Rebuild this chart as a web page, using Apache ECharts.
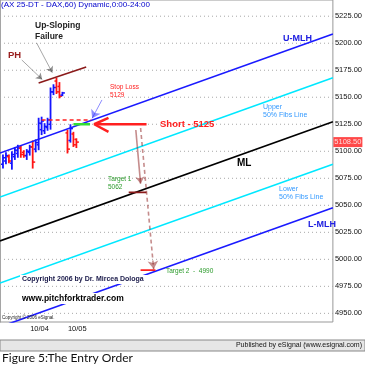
<!DOCTYPE html>
<html><head><meta charset="utf-8">
<script src="https://cdn.jsdelivr.net/npm/echarts@6/dist/echarts.min.js"></script>
<style>html,body{margin:0;padding:0;background:#fff}#c{width:365px;height:370px}</style>
</head><body><div id="c"></div>
<script>
// ---- data ----
var barX     = [1,2,3,4,5,6,7,8,9,10,11,12,13,14,15,16,17,18,19,20,21,22.7,23.7,24.7,25.7];
var barOpen  = [5088,5091,5095,5089,5095,5098,5103,5099,5096,5099,5104,5102,5106,5120,5119,5122,5125,5155,5165,5160,5152,5117,5110,5116,5111];
var barClose = [5094,5096,5091,5097,5101,5103,5097,5096,5100,5104,5090,5108,5126,5128,5123,5129,5155,5159,5155,5151,5154,5102,5121,5106,5108.5];
var barLow   = [5084,5088,5089,5083,5092,5094,5094,5094,5092,5096,5084,5099,5101,5115,5116,5119,5120,5152,5153,5149,5151,5098,5108,5104,5103];
var barHigh  = [5097,5099,5097,5100,5104,5106,5105,5101,5102,5106,5110,5111,5131,5132,5126,5131,5159,5162,5168,5164,5155,5120,5125,5118,5112];

var forkNames  = ['U-MLH','Upper 50%','ML','Lower 50%','L-MLH'];
var forkStartX = 0, forkEndX = 112;
var forkStartY = [5098.4, 5057.7, 5017.0, 4978.1, 4937.5];
var forkEndY   = [5208.5, 5168.1, 5127.4, 5088.0, 5047.8];
var forkColors = ['#1a1aff', '#00e8ff', '#000000', '#00e8ff', '#1a1aff'];

var yTicks = [4950,4975,5000,5025,5050,5075,5100,5125,5150,5175,5200,5225];
var dayTicks = [13.3, 26];
var dayLabels = ['10/04', '10/05'];

var lastPrice = 5108.5;
var stopLoss = 5129, entry = 5125, target1 = 5062, target2 = 4990;
var phLine = [[13, 5163.2], [29, 5178.0]];

var F = 'Liberation Sans, Arial, sans-serif';
var chart = echarts.init(document.getElementById('c'), null, {renderer:'canvas'});

var series = [];
// dotted horizontal grid lines at the tick values
yTicks.forEach(function(v){
  series.push({type:'line', data:[[0,v],[112,v]], symbol:'none', silent:true, z:1,
    lineStyle:{color:'#a8a8a8', type:[1,3], width:1}});
});
series.push({
  type:'custom', name:'DAX', z:3,
  data: barX.map(function(x,i){return [x,barOpen[i],barClose[i],barLow[i],barHigh[i]];}),
  encode:{x:0,y:[1,2,3,4]},
  renderItem:function(params, api){
    var x=api.value(0),o=api.value(1),c=api.value(2),l=api.value(3),h=api.value(4);
    var pH=api.coord([x,h]),pL=api.coord([x,l]),pO=api.coord([x,o]),pC=api.coord([x,c]);
    var col = c>=o ? '#1414ff' : '#ff1414';
    return {type:'group',children:[
      {type:'line',shape:{x1:pH[0],y1:pH[1],x2:pL[0],y2:pL[1]},style:{stroke:col,lineWidth:1.8}},
      {type:'line',shape:{x1:pO[0]-2,y1:pO[1],x2:pO[0],y2:pO[1]},style:{stroke:col,lineWidth:1.5}},
      {type:'line',shape:{x1:pC[0],y1:pC[1],x2:pC[0]+2.5,y2:pC[1]},style:{stroke:col,lineWidth:1.5}}
    ]};
  }
});
forkNames.forEach(function(n,i){
  series.push({type:'line', name:n, data:[[forkStartX,forkStartY[i]],[forkEndX,forkEndY[i]]],
    symbol:'none', silent:true, z:4, clip:true,
    lineStyle:{color:forkColors[i], width:1.6}});
});
function seg(data, color, width, type, z){
  series.push({type:'line', data:data, symbol:'none', silent:true, z:z||5,
    lineStyle:{color:color, width:width, type:type||'solid'}});
}
seg(phLine, '#8b1a1a', 1.6);
seg([[14, stopLoss],[30.7, stopLoss]], '#ff2020', 1.5, [4,3]);
seg([[24.7, entry],[30.3, entry]], '#33dd33', 2.5);
seg([[32, entry],[49.3, entry]], '#ff2020', 2.5);
seg([[36.5, entry+6],[31.7, entry],[36.5, entry-7]], '#ff2020', 2.5);
seg([[43.3, target1],[49.3, target1]], '#8b1a1a', 1.6);
seg([[47.3, target2],[52.3, target2]], '#ff2020', 1.6);
series.push({type:'lines', coordinateSystem:'cartesian2d', z:6, silent:true,
  symbol:['none','arrow'], symbolSize:7,
  data:[
    {coords:[[45.7,5119.7],[47.3,target1+8]], lineStyle:{color:'#8b1a1a', width:1.6, type:'solid'}},
    {coords:[[47.3,5121.5],[51.7,target2+1]], lineStyle:{color:'#8b1a1a', width:1.6, type:[4,3]}, symbolSize:8},
    {coords:[[34.3,5147.5],[31,stopLoss+1.5]], lineStyle:{color:'#1a1aff', width:1}, symbolSize:8},
    {coords:[[7.33,5184.5],[14.2,5166.5]], lineStyle:{color:'#222', width:0.8}, symbolSize:6},
    {coords:[[12.33,5200.2],[17.6,5172.8]], lineStyle:{color:'#222', width:0.8}, symbolSize:6}
  ]});
// last price tag
series.push({type:'scatter', data:[[112, lastPrice]], symbol:'rect', symbolSize:[29,10], symbolOffset:[15,0],
  itemStyle:{color:'#ff1a1a'}, z:10, silent:true, clip:false,
  label:{show:true, position:'inside', formatter:function(){return lastPrice.toFixed(2);}, color:'#fff', fontSize:7.5, fontFamily:F}});

function txt(t,x,y,size,color,weight,extra){
  var s = {text:t, x:x, y:y, font:(weight||'normal')+' '+size+'px '+F, fill:color, textVerticalAlign:'top'};
  if(extra){for(var k in extra) s[k]=extra[k];}
  return {type:'text', z:100, style:s};
}
var graphics = [
  txt('(AX 25-DT - DAX,60) Dynamic,0:00-24:00', 1, 1, 8, '#0000cc'),
  txt('Up-Sloping', 35, 21, 8.5, '#222', 'bold'),
  txt('Failure', 35, 32, 8.5, '#222', 'bold'),
  txt('PH', 8, 50, 9.5, '#9a2020', 'bold'),
  txt('Stop Loss', 110, 84, 6.5, '#ff2020'),
  txt('5129', 110, 92, 6.5, '#ff2020'),
  txt('Short - 5125', 160, 119, 9.5, '#ff2020', 'bold'),
  txt('U-MLH', 283, 34, 9, '#2020e0', 'bold'),
  txt('Upper', 263, 104, 7, '#3399ff'),
  txt('50% Fibs Line', 263, 112, 7, '#3399ff'),
  txt('ML', 237, 158, 10, '#000', 'bold'),
  txt('Lower', 279, 186, 7, '#3399ff'),
  txt('50% Fibs Line', 279, 194, 7, '#3399ff'),
  txt('L-MLH', 308, 220, 9, '#2020e0', 'bold'),
  txt('Target 1', 108, 176, 6.5, '#2a9a2a'),
  txt('5062', 108, 184, 6.5, '#2a9a2a'),
  txt('Target 2  -  4990', 166, 268, 6.5, '#2a9a2a'),
  txt('Copyright 2006 by Dr. Mircea Dologa', 20, 275, 7, '#1a1a4a', 'bold', {backgroundColor:'#fff', padding:[1,8,1,2]}),
  txt('www.pitchforktrader.com', 20, 293, 8.5, '#000', 'bold', {backgroundColor:'#fff', padding:[1,28,1,2]}),
  txt('Copyright \u00a9 2006 eSignal.', 2, 315, 4.5, '#222'),
  {type:'rect', z:90, shape:{x:0,y:340,width:365,height:11}, style:{fill:'#e6e6e6', stroke:'#888', lineWidth:1}},
  txt('Published by eSignal (www.esignal.com)', 362, 342, 7, '#111', 'normal', {textAlign:'right'}),
  txt('Figure 5:The Entry Order', 2, 352, 12, '#111', 'normal', {font:'normal 12px Lato, sans-serif'})
];

chart.setOption({
  animation:false,
  backgroundColor:'#fff',
  grid:{left:0, right:29, top:0, bottom:48, show:true, borderColor:'#999', borderWidth:1, containLabel:false},
  xAxis:{type:'value', min:0, max:112,
    axisLine:{show:false}, axisTick:{show:false, customValues:dayTicks}, splitLine:{show:false},
    axisLabel:{show:true, customValues:dayTicks, formatter:function(v){var i=dayTicks.indexOf(v);return i>=0?dayLabels[i]:'';},
      fontSize:7.5, color:'#111', fontFamily:F, margin:3}},
  yAxis:{type:'value', position:'right', min:4942, max:5240,
    axisLine:{show:true, lineStyle:{color:'#999', width:1.5}},
    axisTick:{show:false, customValues:yTicks},
    axisLabel:{show:true, customValues:yTicks, formatter:function(v){return v.toFixed(2);}, fontSize:7.5, color:'#111', fontFamily:F, margin:2},
    splitLine:{show:false}},
  series:series,
  graphic:graphics
});
</script></body></html>
